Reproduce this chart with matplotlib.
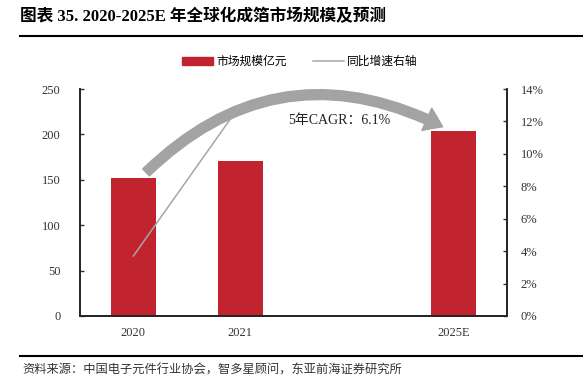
import matplotlib
matplotlib.use('Agg')
import matplotlib.pyplot as plt
from matplotlib.patches import FancyArrowPatch
from matplotlib.lines import Line2D

plt.rcParams['font.family'] = ['Liberation Serif', 'Noto Sans CJK SC']

# data
years = ['2020', '2021', '2025E']
market_size = [151.5, 171, 204]      # 亿元
yoy_growth = [3.7, 13.0]             # %, only 2020 and 2021
cagr_label = '5年CAGR：6.1%'

# layout: one empty slot between 2021 and 2025E
xpos = [0, 1, 3]

fig = plt.figure(figsize=(5.84, 3.85), dpi=100)
ax = fig.add_axes([80/584, 1 - 316/385, 427/584, 227/385])
ax2 = ax.twinx()

bar_color = '#C1232F'
ax.bar(xpos, market_size, width=0.42, color=bar_color, zorder=2)
ax2.plot(xpos[:2], yoy_growth, color='#A6A6A6', lw=1.1, zorder=6)

ax.set_xlim(-0.5, 3.5)
ax.set_ylim(0, 250)
ax.set_yticks(range(0, 251, 50))
ax2.set_ylim(0, 14)
ax2.set_yticks(range(0, 15, 2))
ax2.set_yticklabels([f'{v}%' for v in range(0, 15, 2)])
ax.set_xticks(xpos)
ax.set_xticklabels(years)

for a in (ax, ax2):
    a.spines['top'].set_visible(False)
    a.tick_params(direction='in', length=3, labelsize=9, colors='#333333', width=1)
    for s in a.spines.values():
        s.set_linewidth(1.2)
        s.set_color('#222222')
ax.tick_params(axis='x', length=0, pad=8)
ax.tick_params(axis='y', pad=14)
ax2.tick_params(axis='y', pad=10)

# curved CAGR arrow, under the growth line
arrow = FancyArrowPatch((0.1, 156), (2.92, 207),
                        connectionstyle='arc3,rad=-0.36',
                        arrowstyle='simple,head_width=1.25,head_length=0.9,tail_width=0.5',
                        mutation_scale=14, color='#A3A3A3', zorder=4,
                        transform=ax.transData, clip_on=False)
ax2.add_patch(arrow)
ax2.text(1.93, 215 * 14 / 250, cagr_label, ha='center', va='center',
         fontsize=10, color='#222222', zorder=5)

# legend
handles = [plt.Rectangle((0, 0), 1, 1, color=bar_color),
           Line2D([0], [0], color='#A6A6A6', lw=1.1)]
fig.legend(handles, ['市场规模亿元', '同比增速右轴'], loc='center',
           bbox_to_anchor=(300/584, 1 - 62/385), ncol=2, frameon=False,
           fontsize=8.5, handlelength=2.6, handleheight=0.6, columnspacing=2.2,
           handletextpad=0.3)

# title and source
fig.text(20/584, 1 - 17/385, '图表 35. 2020-2025E 年全球化成箔市场规模及预测',
         fontsize=12, fontweight='bold', va='center', ha='left')
fig.add_artist(Line2D([20/584, 582/584], [1 - 36/385, 1 - 36/385], color='black', lw=1.5))
fig.add_artist(Line2D([20/584, 582/584], [1 - 356/385, 1 - 356/385], color='black', lw=1.5))
fig.text(22/584, 1 - 370/385, '资料来源：中国电子元件行业协会，智多星顾问，东亚前海证券研究所',
         fontsize=8.8, va='center', ha='left', color='#333333')

fig.savefig('out.png', dpi=100)
